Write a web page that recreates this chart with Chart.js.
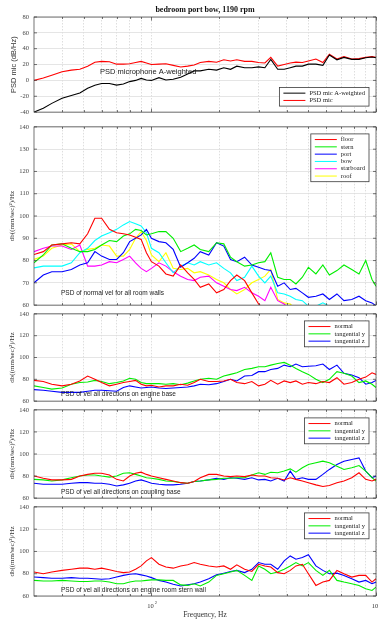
<!DOCTYPE html>
<html>
<head>
<meta charset="utf-8">
<script src="https://cdn.jsdelivr.net/npm/chart.js@4.4.0/dist/chart.umd.min.js"></script>
<style>
  body { margin: 0; background: #fff; }
  #wrap { position: relative; width: 379px; height: 622px; overflow: hidden; background: #fff; }
  #wrap canvas { position: absolute; left: 0; }
</style>
</head>
<body>
<div id="wrap"></div>
<script>
// frequency grid shared by all panels (Hz)
const FREQ = [30,33,36,40,44,48,52,56,60,65,70,75,80,85,90,95,100,108,116,125,135,145,155,165,180,195,210,225,240,260,280,300,320,340,365,390,415,440,470,500,540,580,620,670,720,780,840,900,960,1000];
const X_TICKS = [40,50,60,70,80,90,100,200,300,400,500,600,700,800,900,1000];

// panel 1: microphone
const micA = [-40,-35,-29,-22.5,-19,-16,-10,-6,-4,-4,-6,-4.5,-1.5,0,2.5,0.5,0,3.5,0.5,1.5,4,8,12,12,14,13,16,14,18,16,16,17,16,26.5,14,14,16,18,18,20.5,20.5,19,32,26,29,26.5,26.5,28.5,29.5,28.5];
const mic = [0,3,6.5,11,13,14,18,23,24,23.5,20.5,20.5,21,22.5,24,22,20,20.5,21,19,17,18,19.5,22.5,24,23,26,24.5,26,24,24,22.5,22,29,18,20,22,23,22.5,24.5,27,22.5,33,27,30,27,27.5,29,30,29];

// panel 2: room walls
const floorV = [82.7,84,87,87.5,88,87.5,92,99,99,94,92.5,92,91.5,90.5,89.5,83.5,79.5,77.5,74,73,78,74.5,71.5,68,69.5,65.5,67,71,73.5,71,65.5,60.5,58,57,56,57,55,56,57,55,56,55,57,56,55,57,58,56,55,56];
const sternV = [79,82.5,87,87.5,85.5,84,84,85,87,89,88.5,91,92,94,93.5,91.5,92,93,93,90,84,85.5,87,85,84,88,87.5,81.5,79.5,77.5,78,79,79.5,83.5,72.5,71.5,71.5,69.5,72.5,77,74,78,73.5,75.5,78,76,74,80,71.5,68.5];
const portV = [70,73.5,75,75,76,78,79,84,82,80.5,80.5,83.5,88.5,90,91.5,94,90,88.5,88,85,77,79,81,84,82.5,88,86.5,80.5,79.5,81.5,78,77,76,75.5,68.5,70,67,67.5,65.5,63.5,64,65,62.5,65,62,62.5,64,62,61,59.7];
const bowV = [76.7,77.5,77.5,77.5,79,83.5,85.5,89,91,92.5,94,96,97.5,96.5,95.5,92.5,85.5,83.5,79,74.5,77.5,79,78,79.5,78,79,76.5,74.5,71,72.5,77.5,73,70,73,65.5,65,64,62.5,62,59.5,59.5,61,59.5,59,57,58,56,57,56,55];
const starboardV = [84,85.5,86.5,86.5,85,87,77.5,77.5,78,79.5,79,80.5,82,79,76.5,75,76.5,79,77.5,75,73,71.5,71,72.5,73,70,68.5,67,66.5,68,65.5,64,62,68,62,60.5,58,57,59,56,57,55,56,57,55,56,57,55,56,55];
const roofV = [80.5,82,85.5,87,87.5,84,85,85.5,87,86.5,82,82,85,90,93,89,82.5,79.5,83.5,76.5,76,76.5,74.5,75,73.5,71.5,70,67,65,67,70,71.5,73,76,62.5,61,60.5,58,59,57,59.5,56,58,59,57,56,58,55,56,55];

// panel 3: engine base
const engN = [79,78,75.5,74,75.5,78.5,83,80,77,74,75.5,77,78,79,75.5,74,74.5,73,74,74,75.5,74.5,77,80,78,78,78.5,80,77,76,78,74,75.5,79,75.5,78.5,77,78.5,75.5,77,76,78,77,81.5,75.5,77,80,82,86,84.5];
const engTy = [74,72.5,71,72,75.5,77,77.5,79,78,76,77,78.5,81,80,77,76,76,76,75.5,76,75,76.5,78.5,80,81,80,83,84.5,86,89,90,91.5,91.5,93,94.5,95.5,93,90,87,84.5,80,77,80,87,85.5,83,77,78.5,75.5,72.5];
const engTz = [70.5,70,69,68,68,68,69,70,70,69.5,69,72.5,74,73,72,72.5,73,72,71.5,72,72.5,73,74,75.5,75,76,78,80,78.5,83,83.5,87,87,89,90,93,91.5,94,91.5,92,92.5,94,89,93,85.5,84,81.5,75.5,77,79];

// panel 4: coupling base
const cplN = [80,78,76.5,76.5,77,80,81.5,82.5,82.5,81,77,75.5,80,82.5,83.5,81.5,80,78.5,77,75.5,74,73.5,75,78.5,81.5,81.5,80,79.5,80,79.5,81,80,80,78.5,78,76.5,78.5,77,75.5,74,72,70.5,71.5,74,75.5,78.5,83,77,75.5,77];
const cplTy = [77,76.5,75.5,76.5,78.5,80,81,81,80,79,80,82.5,83,81.5,80,78.5,78,77,75.5,75,74,73.5,75,75.5,76.5,77,78,78,78.5,78.5,81,83,81.5,83.5,83,84.5,86.5,83.5,87.5,90.5,92,93.5,92,89,86,87.5,89.5,84.5,78.5,75.5];
const cplTz = [73.5,72.5,72.5,72.5,73.5,74,74,73.5,73.5,72.5,71,72,73.5,75.5,76.5,75,73.5,72.5,72,72,72.5,73.5,75,75.5,76.5,78,77,78.5,78,77,78.5,76.5,77,75.5,78,75.5,84.5,77,78.5,77,77,81.5,86,90.5,93.5,95,96.5,84.5,78.5,80];

// panel 5: engine room stern wall
const wallN = [81.5,80,81.5,83,84,85,85,84,85,83.5,82,81,81.5,84,87,91.5,94.5,88.5,86,85,87,88,90,88.5,87,86,87,84,88,84,82,88.5,87,86,81,80,83,87,88.5,80,69.5,72.5,74,83,80,77,78.5,78.5,72.5,75.5];
const wallTy = [74,73.5,73.5,74,73.5,73,73,73.5,73.5,72.5,71,71,72.5,73.5,73.5,74,74.5,74.5,74,74,70,69.5,71,69,72.5,78.5,80,81.5,83,78.5,74,87,84,80,81.5,84,87,90,87,90,83,78.5,83,74,72.5,71,69.5,66.5,65,68];
const wallTz = [77,76.5,76,76,76.5,76,76,75.5,75,75.5,77,78.5,79.5,80,79,78,76.5,74,72.5,70.5,69,70,71,72.5,75.5,79,80.5,82,83,81,84,90,88.5,88.5,84,91.5,96,93,94.5,97,87,83,80,80.5,78.5,75.5,72.5,74,71,72.5];

const SERIF = "'Liberation Serif', 'DejaVu Serif', serif";
const SANS = "'Liberation Sans', Arial, sans-serif";
const VEL_TITLE = "db((mm/sec)\u00B2)/Hz";

function series(label, vals, color) {
  return {
    label: label,
    data: FREQ.map((f, i) => ({ x: f, y: vals[i] })),
    borderColor: color,
    borderWidth: 1.1,
    pointRadius: 0,
    tension: 0,
    fill: false
  };
}

// matlab-ish decorations: box, inner ticks, legend, notes
const frame = {
  id: "frame",
  afterDatasetsDraw(chart, args, o) {
    const ctx = chart.ctx, a = chart.chartArea;
    const x = chart.scales.x, y = chart.scales.y;
    ctx.save();
    ctx.strokeStyle = "#3a3a3a";
    ctx.lineWidth = 0.7;
    ctx.beginPath();
    x.ticks.forEach(t => {
      const px = Math.round(x.getPixelForValue(t.value)) + 0.5;
      const len = t.value === 100 || t.value === 1000 ? 3.5 : 2;
      ctx.moveTo(px, a.bottom); ctx.lineTo(px, a.bottom - len);
      ctx.moveTo(px, a.top); ctx.lineTo(px, a.top + len);
    });
    y.ticks.forEach(t => {
      const py = y.getPixelForValue(t.value);
      ctx.moveTo(a.left, py); ctx.lineTo(a.left + 3, py);
      ctx.moveTo(a.right, py); ctx.lineTo(a.right - 3, py);
    });
    ctx.stroke();
    ctx.strokeRect(a.left, a.top, a.width, a.height);

    // y title
    ctx.fillStyle = "#333";
    ctx.save();
    ctx.translate(o.yTitleX, (a.top + a.bottom) / 2);
    ctx.rotate(-Math.PI / 2);
    ctx.font = o.yTitleFont;
    ctx.textAlign = "center";
    ctx.textBaseline = "middle";
    ctx.fillText(o.yTitle, 0, 0);
    ctx.restore();

    // note inside plot
    ctx.fillStyle = "#1a1a1a";
    ctx.font = o.noteFont;
    ctx.textAlign = "left";
    ctx.textBaseline = "middle";
    ctx.fillText(o.note, o.noteX, o.noteFromTop ? a.top + o.noteY : a.bottom - o.noteY);

    // legend
    const ds = chart.data.datasets;
    ctx.font = "6.5px " + SERIF;
    let tw = 0;
    ds.forEach(d => { tw = Math.max(tw, ctx.measureText(d.label).width); });
    const rowH = 7.3, lineLen = 22;
    const bw = 4 + lineLen + 4 + tw + 4, bh = ds.length * rowH + 4;
    const bx = a.right - 7 - bw;
    const by = o.legendBottom ? a.bottom - 6 - bh : a.top + o.legendTop;
    ctx.fillStyle = "#fff";
    ctx.fillRect(bx, by, bw, bh);
    ctx.strokeStyle = "#3a3a3a";
    ctx.lineWidth = 0.8;
    ctx.strokeRect(bx, by, bw, bh);
    ds.forEach((d, i) => {
      const ry = by + 2 + rowH * (i + 0.5);
      ctx.strokeStyle = d.borderColor;
      ctx.lineWidth = 1;
      ctx.beginPath();
      ctx.moveTo(bx + 4, ry); ctx.lineTo(bx + 4 + lineLen, ry);
      ctx.stroke();
      ctx.fillStyle = "#222";
      ctx.fillText(d.label, bx + 8 + lineLen, ry);
    });

    if (o.title) {
      ctx.font = "bold 8px " + SERIF;
      ctx.textAlign = "center";
      ctx.fillStyle = "#111";
      ctx.fillText(o.title, (a.left + a.right) / 2, a.top - 7);
    }
    if (o.xAxis) {
      ctx.fillStyle = "#333";
      ctx.textAlign = "center";
      [[100, "2"], [1000, "3"]].forEach(([v, e]) => {
        const px = x.getPixelForValue(v);
        ctx.font = "6.5px " + SERIF;
        ctx.fillText("10", px - 1, a.bottom + 10);
        ctx.font = "4.5px " + SERIF;
        ctx.fillText(e, px + 4.5, a.bottom + 7);
      });
      ctx.font = "7.5px " + SERIF;
      ctx.fillText("Frequency, Hz", (a.left + a.right) / 2, a.bottom + 19);
    }
    ctx.restore();
  }
};

function panel(top, height, pad, yMin, yMax, step, datasets, deco) {
  const cv = document.createElement("canvas");
  cv.width = 379; cv.height = height;
  cv.style.top = top + "px";
  document.getElementById("wrap").appendChild(cv);
  new Chart(cv.getContext("2d"), {
    type: "line",
    data: { datasets: datasets },
    options: {
      responsive: false,
      animation: false,
      devicePixelRatio: 1,
      layout: { padding: { top: pad[0], bottom: pad[1], left: 0, right: 3 } },
      plugins: { legend: { display: false }, tooltip: { enabled: false }, frame: deco },
      scales: {
        x: {
          type: "logarithmic",
          min: 30, max: 1000,
          afterBuildTicks: s => { s.ticks = X_TICKS.map(v => ({ value: v })); },
          afterFit: s => { s.height = 0; },
          ticks: { display: false },
          grid: { color: "#d6d6d6", lineWidth: 0.8, drawTicks: false },
          border: { display: false, dash: [1.5, 1.5] }
        },
        y: {
          min: yMin, max: yMax,
          afterFit: s => { s.width = 34; },
          ticks: { stepSize: step, color: "#444", padding: 5, font: { family: SERIF, size: 6.5 } },
          grid: { color: "#dedede", lineWidth: 0.8, drawTicks: false },
          border: { display: false }
        }
      }
    },
    plugins: [frame]
  });
}

panel(0, 121, [17, 8], -40, 80, 20,
  [series("PSD mic A-weighted", micA, "#000000"), series("PSD mic", mic, "#ff0000")],
  { title: "bedroom port bow, 1190 rpm", yTitle: "PSD mic (dB/Hz)", yTitleX: 14, yTitleFont: "7.5px " + SANS,
    note: "PSD microphone A-weighted", noteX: 100, noteY: 55, noteFromTop: true, noteFont: "7.5px " + SANS,
    legendBottom: true });

panel(118, 196, [8, 8], 60, 140, 10,
  [series("floor", floorV, "#ff0000"), series("stern", sternV, "#00ee00"), series("port", portV, "#0000ff"),
   series("bow", bowV, "#00ffff"), series("starboard", starboardV, "#ff00ff"), series("roof", roofV, "#ffff00")],
  { yTitle: VEL_TITLE, yTitleX: 12, yTitleFont: "7px " + SERIF,
    note: "PSD of normal vel for all room walls", noteX: 61, noteY: 12, noteFont: "6.5px " + SANS, legendTop: 7 });

panel(305, 105, [8, 8], 60, 140, 20,
  [series("normal", engN, "#ff0000"), series("tangential y", engTy, "#00ee00"), series("tangential z", engTz, "#0000ff")],
  { yTitle: VEL_TITLE, yTitleX: 12, yTitleFont: "7px " + SERIF,
    note: "PSD of vel all directions on engine base", noteX: 61, noteY: 7, noteFont: "6.5px " + SANS, legendTop: 7 });

panel(401, 106, [8, 8], 60, 140, 20,
  [series("normal", cplN, "#ff0000"), series("tangential y", cplTy, "#00ee00"), series("tangential z", cplTz, "#0000ff")],
  { yTitle: VEL_TITLE, yTitleX: 12, yTitleFont: "7px " + SERIF,
    note: "PSD of vel all directions on coupling base", noteX: 61, noteY: 6, noteFont: "6.5px " + SANS, legendTop: 8 });

panel(498, 124, [8, 26], 60, 140, 20,
  [series("normal", wallN, "#ff0000"), series("tangential y", wallTy, "#00ee00"), series("tangential z", wallTz, "#0000ff")],
  { yTitle: VEL_TITLE, yTitleX: 12, yTitleFont: "7px " + SERIF,
    note: "PSD of vel all directions on engine room stern wall", noteX: 61, noteY: 6, noteFont: "6.5px " + SANS,
    legendTop: 6, xAxis: true });
</script>
</body>
</html>
